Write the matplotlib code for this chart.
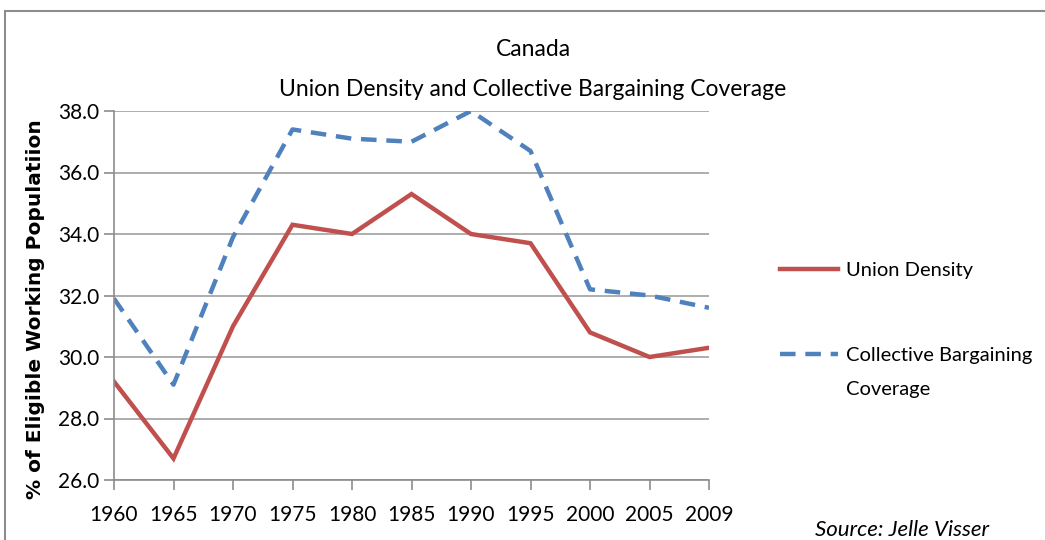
import matplotlib.pyplot as plt
from matplotlib.patches import Rectangle

plt.rcParams['font.family'] = ['Lato', 'DejaVu Sans']

years = ['1960', '1965', '1970', '1975', '1980', '1985', '1990', '1995', '2000', '2005', '2009']
union_density = [29.2, 26.7, 31.0, 34.3, 34.0, 35.3, 34.0, 33.7, 30.8, 30.0, 30.3]
bargaining_coverage = [31.9, 29.1, 33.9, 37.4, 37.1, 37.0, 38.0, 36.7, 32.2, 32.0, 31.6]

fig = plt.figure(figsize=(10.45, 5.4), dpi=100)
# outer chart frame
fig.patches.append(Rectangle((5 / 1045, -0.1), 1.2, 1.1 - 11 / 540, transform=fig.transFigure,
                             fill=False, edgecolor='#8c8c8c', linewidth=1.5))

ax = fig.add_axes([114 / 1045, 1 - 480 / 540, 595 / 1045, 369 / 540])
x = list(range(len(years)))
ax.plot(x, union_density, color='#C0504D', linewidth=3.2, label='Union Density',
        solid_joinstyle='miter')
ax.plot(x, bargaining_coverage, color='#4F81BD', linewidth=3.2, dashes=(3.5, 2.2),
        label='Collective Bargaining')

ax.set_xlim(0, len(years) - 1)
ax.set_ylim(26, 38)
ax.set_yticks([26, 28, 30, 32, 34, 36, 38])
ax.set_yticklabels([f'{v:.1f}' for v in [26, 28, 30, 32, 34, 36, 38]])
ax.set_xticks(x)
ax.set_xticklabels(years)
ax.tick_params(axis='both', labelsize=15, color='#8c8c8c', length=7, width=1.2)
ax.tick_params(axis='x', pad=11)
ax.grid(axis='y', color='#a0a0a0', linewidth=1.2)
ax.set_axisbelow(True)
for s in ['top', 'right']:
    ax.spines[s].set_visible(False)
for s in ['left', 'bottom']:
    ax.spines[s].set_color('#8c8c8c')
    ax.spines[s].set_linewidth(1.2)

ax.set_ylabel('% of Eligible Working Populatiion', fontsize=14.5, fontweight='bold',
              family=['DejaVu Sans'])
ax.yaxis.set_label_coords(-0.116, 0.463)

fig.text(533 / 1045, 1 - 50 / 540, 'Canada', ha='center', va='center', fontsize=16.5)
fig.text(533 / 1045, 1 - 90 / 540, 'Union Density and Collective Bargaining Coverage',
         ha='center', va='center', fontsize=16.5)

fig.legend(loc='upper left', bbox_to_anchor=(780 / 1045, 1 - 262 / 540), frameon=False,
           fontsize=14.5, handlelength=2.9, handletextpad=0.4, labelspacing=3.35,
           borderpad=0, borderaxespad=0)
fig.text(846 / 1045, 1 - 389 / 540, 'Coverage', ha='left', va='center', fontsize=14.5)

fig.text(815 / 1045, 1 - 530 / 540, 'Source: Jelle Visser', ha='left', va='center',
         fontsize=16, style='italic')

fig.savefig('out.png', dpi=100)
